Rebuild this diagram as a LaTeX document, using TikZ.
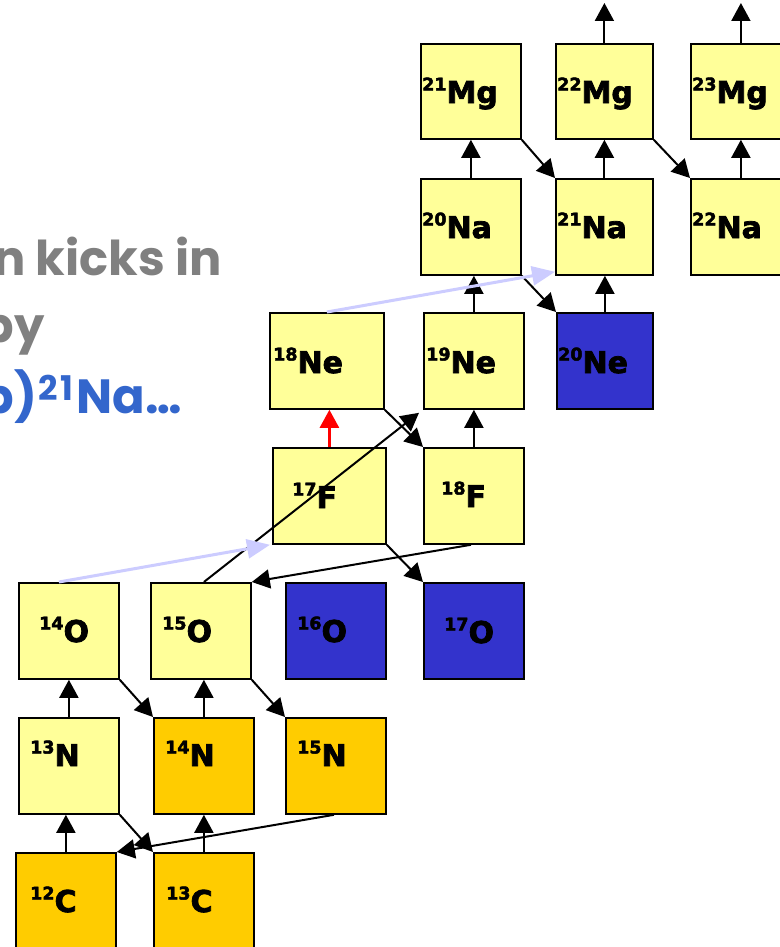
\documentclass[tikz,border=0pt]{standalone}
\usepackage{fontspec}
\usetikzlibrary{arrows.meta}
\newfontfamily\isofont{DejaVu Sans}[BoldFeatures={FakeBold=2.5}]
\newfontfamily\notefont{Poppins}
\definecolor{paleY}{HTML}{FFFF99}
\definecolor{stableO}{HTML}{FFCC00}
\definecolor{stableB}{HTML}{3333CC}
\definecolor{flowB}{HTML}{CCCCFF}
\definecolor{noteGray}{HTML}{808080}
\definecolor{noteBlue}{HTML}{3366CC}
% isotope label: small raised mass number, then the element symbol
\newcommand\isolab[2]{{\isofont\bfseries\raisebox{12.5pt}{\fontsize{17.5}{17.5}\selectfont #1}\fontsize{30}{30}\selectfont #2}}
\begin{document}
\begin{tikzpicture}[x=1pt,y=-1pt,
  isobox/.style={draw=black, line width=1.8pt, inner sep=0pt, anchor=north west,
                 minimum width=100pt, minimum height=96pt},
  isotext/.style={anchor=base west, inner sep=0pt},
  arr/.style={line width=2pt, -{Triangle[length=18pt,width=19pt]}},
  redarr/.style={line width=2.5pt, red, -{Triangle[length=18pt,width=19pt]}},
  flowarr/.style={line width=3pt, flowB, -{Triangle[length=23pt,width=19pt]}},
  note/.style={anchor=base east, inner sep=0pt, font=\notefont\bfseries\fontsize{48}{48}\selectfont}]
\useasboundingbox (0,0) rectangle (779,947);
\fill[white] (0,0) rectangle (779,947);

% boxes
\node[isobox, fill=stableO] (c12) at (15,852) {};
\node[isobox, fill=stableO] (c13) at (153,852) {};
\node[isobox, fill=paleY]   (n13) at (18,717) {};
\node[isobox, fill=stableO] (n14) at (153,717) {};
\node[isobox, fill=stableO] (n15) at (285,717) {};
\node[isobox, fill=paleY]   (o14) at (18,582) {};
\node[isobox, fill=paleY]   (o15) at (150,582) {};
\node[isobox, fill=stableB] (o16) at (285,582) {};
\node[isobox, fill=stableB] (o17) at (423,582) {};
\node[isobox, fill=paleY, minimum width=113pt] (f17) at (272,447) {};
\node[isobox, fill=paleY]   (f18) at (423,447) {};
\node[isobox, fill=paleY, minimum width=114pt] (ne18) at (269,312) {};
\node[isobox, fill=paleY]   (ne19) at (423,312) {};
\node[isobox, fill=stableB, minimum width=96pt] (ne20) at (556,312) {};
\node[isobox, fill=paleY]   (na20) at (420,178) {};
\node[isobox, fill=paleY, minimum width=97pt] (na21) at (555,178) {};
\node[isobox, fill=paleY]   (na22) at (690,178) {};
\node[isobox, fill=paleY, minimum height=95pt] (mg21) at (420,43) {};
\node[isobox, fill=paleY, minimum width=97pt, minimum height=95pt] (mg22) at (555,43) {};
\node[isobox, fill=paleY, minimum height=95pt] (mg23) at (690,43) {};

% labels
\node[isotext] (tc12) at (30,912) {\isolab{12}{C}};
\node[isotext] (tc13) at (166,912) {\isolab{13}{C}};
\node[isotext] (tn13) at (30,766) {\isolab{13}{N}};
\node[isotext] (tn14) at (165,766) {\isolab{14}{N}};
\node[isotext] (tn15) at (297,766) {\isolab{15}{N}};
\node[isotext] (to14) at (39,642) {\isolab{14}{O}};
\node[isotext] (to15) at (162,642) {\isolab{15}{O}};
\node[isotext] (to16) at (297,642) {\isolab{16}{O}};
\node[isotext] (to17) at (444,643) {\isolab{17}{O}};
\node[isotext] (tf17) at (292,508) {\isolab{17}{F}};
\node[isotext] (tf18) at (441,507) {\isolab{18}{F}};
\node[isotext] (tne18) at (273,373) {\isolab{18}{Ne}};
\node[isotext] (tne19) at (426,373) {\isolab{19}{Ne}};
\node[isotext] (tne20) at (558,373) {\isolab{20}{Ne}};
\node[isotext] (tna20) at (422,238) {\isolab{20}{Na}};
\node[isotext] (tna21) at (557,238) {\isolab{21}{Na}};
\node[isotext] (tna22) at (692,238) {\isolab{22}{Na}};
\node[isotext] (tmg21) at (422,103) {\isolab{21}{Mg}};
\node[isotext] (tmg22) at (557,103) {\isolab{22}{Mg}};
\node[isotext] (tmg23) at (692,103) {\isolab{23}{Mg}};

% proton captures (upward)
\draw[arr] (c12.north) -- (c12.north |- n13.south);
\draw[arr] (c13.north) -- (c13.north |- n14.south);
\draw[arr] (n13.north) -- (n13.north |- o14.south);
\draw[arr] (n14.north) -- (n14.north |- o15.south);
\draw[arr] (f18.north) -- (f18.north |- ne19.south);
\draw[arr] (ne19.north) -- (ne19.north |- na20.south);
\draw[arr] (ne20.north) -- (ne20.north |- na21.south);
\draw[arr] (na20.north) -- (na20.north |- mg21.south);
\draw[arr] (na21.north) -- (na21.north |- mg22.south);
\draw[arr] (na22.north) -- (na22.north |- mg23.south);
\coordinate (top22) at (mg22.north |- 0,3);
\coordinate (top23) at (mg23.north |- 0,3);
\draw[arr] (mg22.north) -- (top22);
\draw[arr] (mg23.north) -- (top23);
\draw[redarr] (f17.north) -- (f17.north |- ne18.south);

% beta decays (diagonal)
\draw[arr] (n13.south east) -- (c13.north west);
\draw[arr] (o14.south east) -- (n14.north west);
\draw[arr] (o15.south east) -- (n15.north west);
\draw[arr] (f17.south east) -- (o17.north west);
\draw[arr] (ne18.south east) -- (f18.north west);
\draw[arr] (na20.south east) -- (ne20.north west);
\draw[arr] (mg21.south east) -- (na21.north west);
\draw[arr] (mg22.south east) -- (na22.north west);

% (p,alpha) returns
\draw[arr] ([xshift=-2pt]n15.south) -- (c12.north east);
\draw[arr] ([xshift=-3pt]f18.south) -- (o15.north east);

% breakout paths
\draw[arr] ([xshift=3pt]o15.north) -- ([xshift=-4pt,yshift=-3pt]ne19.south west);
\draw[flowarr] ([xshift=-10pt]o14.north) -- ([xshift=-2pt]f17.south west);
\draw[flowarr] (ne18.north) -- ([yshift=4pt]na21.south west);

% side note
\node[note, text=noteGray] (l1) at (222,275) {n kicks in};
\node[note, text=noteGray] (l2) at (45,342) {by};
\node[note, text=noteBlue] (l3) at (182,413)
  {p)\hspace{1pt}\raisebox{13pt}{\fontsize{34}{34}\selectfont 2\hspace{3pt}1}\hspace{3pt}Na…};
\end{tikzpicture}
\end{document}
